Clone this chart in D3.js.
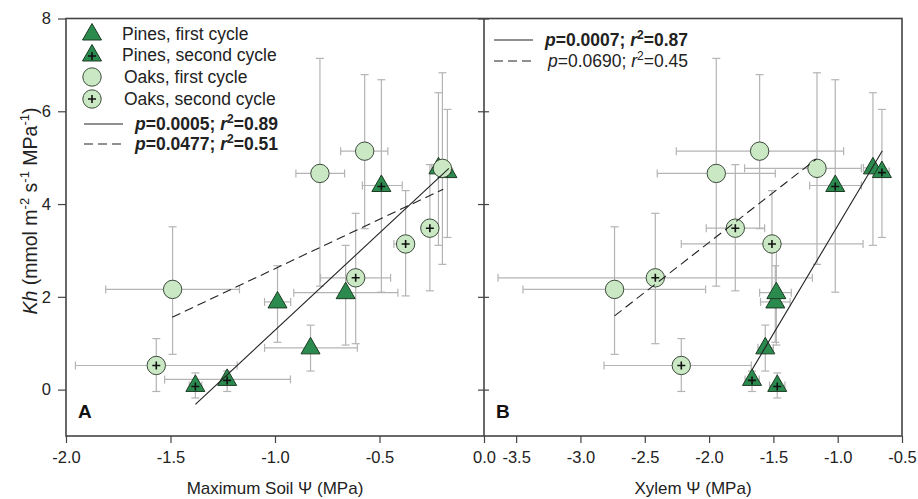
<!DOCTYPE html>
<html><head><meta charset="utf-8">
<script src="https://cdn.jsdelivr.net/npm/d3@7"></script>
<style>body{margin:0;background:#fff} svg{display:block;font-family:"Liberation Sans",Arial,sans-serif}</style>
</head><body><svg id="c" width="918" height="499"></svg>
<script>
// ---------- DATA ----------
const yTicks = [0, 2, 4, 6, 8];
const xTicksA = [-2.0, -1.5, -1.0, -0.5, 0.0];
const xTicksB = [-3.5, -3.0, -2.5, -2.0, -1.5, -1.0, -0.5];

// Pines, first cycle
const pine1Kh    = [1.89, 0.90, 2.09, 4.78];
const pine1KhLo  = [1.02, 0.40, 0.96, 3.11];
const pine1KhHi  = [2.67, 1.39, 3.11, 6.40];
const pine1Soil  = [-0.988, -0.83, -0.662, -0.218];
const pine1SoilLo= [-1.05, -1.05, -0.91, -0.25];
const pine1SoilHi= [-0.925, -0.606, -0.412, -0.19];
const pine1Xyl   = [-1.485, -1.563, -1.477, -0.726];
const pine1XylLo = [-1.60, -1.62, -1.607, -0.80];
const pine1XylHi = [-1.37, -1.50, -1.361, -0.66];

// Pines, second cycle
const pine2Kh    = [0.09, 0.22, 4.40, 4.70];
const pine2KhLo  = [-0.18, -0.04, 2.10, 3.28];
const pine2KhHi  = [0.36, 0.40, 6.68, 6.04];
const pine2Soil  = [-1.381, -1.229, -0.491, -0.175];
const pine2SoilLo= [-1.41, -1.528, -0.582, -0.20];
const pine2SoilHi= [-1.35, -0.926, -0.391, -0.15];
const pine2Xyl   = [-1.470, -1.666, -1.019, -0.656];
const pine2XylLo = [-1.53, -1.72, -1.218, -0.72];
const pine2XylHi = [-1.41, -1.61, -0.816, -0.60];

// Oaks, first cycle
const oak1Kh    = [2.16, 4.66, 5.14, 4.77];
const oak1KhLo  = [0.76, 2.23, 3.47, 2.70];
const oak1KhHi  = [3.51, 7.14, 6.79, 6.83];
const oak1Soil  = [-1.49, -0.785, -0.571, -0.199];
const oak1SoilLo= [-1.81, -0.90, -0.686, -0.23];
const oak1SoilHi= [-1.17, -0.667, -0.46, -0.17];
const oak1Xyl   = [-2.735, -1.944, -1.607, -1.161];
const oak1XylLo = [-3.447, -2.403, -2.255, -1.724];
const oak1XylHi = [-2.027, -1.485, -0.954, -0.816];

// Oaks, second cycle
const oak2Kh    = [0.52, 2.41, 3.14, 3.48];
const oak2KhLo  = [-0.04, 0.99, 2.02, 2.13];
const oak2KhHi  = [1.10, 3.80, 4.29, 4.85];
const oak2Soil  = [-1.568, -0.614, -0.375, -0.259];
const oak2SoilLo= [-1.955, -0.782, -0.431, -0.29];
const oak2SoilHi= [-1.181, -0.447, -0.335, -0.23];
const oak2Xyl   = [-2.216, -2.418, -1.511, -1.796];
const oak2XylLo = [-2.817, -3.641, -2.216, -2.022];
const oak2XylHi = [-1.672, -1.197, -0.803, -1.568];

// Regression lines (end points)
const fitA_solidX = [-1.381, -0.168], fitA_solidY = [-0.32, 4.77];
const fitA_dashX  = [-1.492, -0.195], fitA_dashY  = [1.56, 4.32];
const fitB_solidX = [-1.666, -0.653], fitB_solidY = [0.43, 5.15];
const fitB_dashX  = [-2.735, -1.166], fitB_dashY  = [1.59, 4.97];

const legendLabels = ["Pines, first cycle", "Pines, second cycle", "Oaks, first cycle", "Oaks, second cycle"];
const statsA = [["0.0005", "0.89"], ["0.0477", "0.51"]];
const statsB = [["0.0007", "0.87"], ["0.0690", "0.45"]];

// ---------- STYLE ----------
const pineFill = "#2b8b4f", pineStroke = "#1c3b22";
const oakFill = "#c9e8c3", oakStroke = "#3b4a3b";
const errCol = "#b4b4b4";
const frameCol = "#444";
const FONT = '"Liberation Sans",Arial,sans-serif';

const svg = d3.select("#c");
const y = d3.scaleLinear().domain([-1, 8]).range([436, 18.5]);
const xA = d3.scaleLinear().domain([-2, 0]).range([66, 484]);
const xB = d3.scaleLinear().domain([-3.75, -0.5]).range([484, 902]);

const triPath = "M0,-10.5L9.5,6L-9.5,6Z";

function makeSeries(kh, lo, hi, xs, xlo, xhi) {
  return kh.map((k, i) => ({k, lo: lo[i], hi: hi[i], x: xs[i], xlo: xlo[i], xhi: xhi[i]}));
}

function drawPanel(g, x, series, fits) {
  const eg = g.append("g").attr("stroke", errCol).attr("stroke-width", 1.2).attr("fill", "none");
  const cap = 4;
  series.forEach(s => {
    s.data.forEach(d => {
      eg.append("line").attr("x1", x(d.x)).attr("x2", x(d.x)).attr("y1", y(d.lo)).attr("y2", y(d.hi));
      eg.append("line").attr("x1", x(d.x) - cap).attr("x2", x(d.x) + cap).attr("y1", y(d.lo)).attr("y2", y(d.lo));
      eg.append("line").attr("x1", x(d.x) - cap).attr("x2", x(d.x) + cap).attr("y1", y(d.hi)).attr("y2", y(d.hi));
      eg.append("line").attr("x1", x(d.xlo)).attr("x2", x(d.xhi)).attr("y1", y(d.k)).attr("y2", y(d.k));
      eg.append("line").attr("x1", x(d.xlo)).attr("x2", x(d.xlo)).attr("y1", y(d.k) - cap).attr("y2", y(d.k) + cap);
      eg.append("line").attr("x1", x(d.xhi)).attr("x2", x(d.xhi)).attr("y1", y(d.k) - cap).attr("y2", y(d.k) + cap);
    });
  });
  series.forEach(s => {
    s.data.forEach(d => drawMarker(g, x(d.x), y(d.k), s.type, s.plus));
  });
  const line = d3.line().x(d => x(d[0])).y(d => y(d[1]));
  fits.forEach(f => {
    g.append("path").attr("d", line(f.xs.map((v, i) => [v, f.ys[i]])))
      .attr("fill", "none").attr("stroke", "#222").attr("stroke-width", 1.1)
      .attr("stroke-dasharray", f.dash ? "9,5" : null);
  });
}

function drawMarker(g, cx, cy, type, plus) {
  const m = g.append("g").attr("transform", `translate(${cx},${cy})`);
  if (type === "tri") {
    m.append("path").attr("d", triPath).attr("fill", pineFill).attr("stroke", pineStroke).attr("stroke-width", 1);
  } else {
    m.append("circle").attr("r", 9.2).attr("fill", oakFill).attr("stroke", oakStroke).attr("stroke-width", 1);
  }
  if (plus) {
    const py = type === "tri" ? 1 : 0;
    m.append("path").attr("d", `M-4,${py}H4M0,${py - 4}V${py + 4}`).attr("stroke", "#111").attr("stroke-width", 1.6);
  }
}

const seriesA = [
  {type: "tri", plus: false, data: makeSeries(pine1Kh, pine1KhLo, pine1KhHi, pine1Soil, pine1SoilLo, pine1SoilHi)},
  {type: "tri", plus: true,  data: makeSeries(pine2Kh, pine2KhLo, pine2KhHi, pine2Soil, pine2SoilLo, pine2SoilHi)},
  {type: "circ", plus: false, data: makeSeries(oak1Kh, oak1KhLo, oak1KhHi, oak1Soil, oak1SoilLo, oak1SoilHi)},
  {type: "circ", plus: true,  data: makeSeries(oak2Kh, oak2KhLo, oak2KhHi, oak2Soil, oak2SoilLo, oak2SoilHi)}
];
const seriesB = [
  {type: "tri", plus: false, data: makeSeries(pine1Kh, pine1KhLo, pine1KhHi, pine1Xyl, pine1XylLo, pine1XylHi)},
  {type: "tri", plus: true,  data: makeSeries(pine2Kh, pine2KhLo, pine2KhHi, pine2Xyl, pine2XylLo, pine2XylHi)},
  {type: "circ", plus: false, data: makeSeries(oak1Kh, oak1KhLo, oak1KhHi, oak1Xyl, oak1XylLo, oak1XylHi)},
  {type: "circ", plus: true,  data: makeSeries(oak2Kh, oak2KhLo, oak2KhHi, oak2Xyl, oak2XylLo, oak2XylHi)}
];

drawPanel(svg.append("g"), xA, seriesA, [
  {xs: fitA_solidX, ys: fitA_solidY, dash: false},
  {xs: fitA_dashX, ys: fitA_dashY, dash: true}
]);
drawPanel(svg.append("g"), xB, seriesB, [
  {xs: fitB_solidX, ys: fitB_solidY, dash: false},
  {xs: fitB_dashX, ys: fitB_dashY, dash: true}
]);

// ---------- FRAME & AXES ----------
svg.append("rect").attr("x", 66).attr("y", 18.5).attr("width", 836).attr("height", 417.5)
  .attr("fill", "none").attr("stroke", frameCol).attr("stroke-width", 1.6);
svg.append("line").attr("x1", 484).attr("x2", 484).attr("y1", 18.5).attr("y2", 436)
  .attr("stroke", frameCol).attr("stroke-width", 1.6);

function styleAxis(g) {
  g.select(".domain").remove();
  g.selectAll(".tick line").attr("stroke", frameCol).attr("stroke-width", 1.2);
  g.selectAll(".tick text").attr("fill", "#222").style("font-size", "16.5px").style("font-family", FONT);
}
const fmt = d => d.toFixed(1);
svg.append("g").attr("transform", "translate(0,436)")
  .call(d3.axisBottom(xA).tickValues(xTicksA).tickFormat(fmt).tickSize(7).tickPadding(8)).call(styleAxis);
svg.append("g").attr("transform", "translate(0,436)")
  .call(d3.axisBottom(xB).tickValues(xTicksB).tickFormat(fmt).tickSize(7).tickPadding(8)).call(styleAxis);
svg.append("g").attr("transform", "translate(66,0)")
  .call(d3.axisLeft(y).tickValues(yTicks).tickFormat(d => d).tickSize(8).tickPadding(7)).call(styleAxis);
svg.append("g").attr("transform", "translate(484,0)")
  .call(d3.axisLeft(y).tickValues(yTicks).tickFormat("").tickSize(6)).call(styleAxis);
svg.append("g").attr("transform", "translate(484,0)")
  .call(d3.axisRight(y).tickValues(yTicks).tickFormat("").tickSize(5)).call(styleAxis);

// axis titles
svg.append("text").attr("x", 275).attr("y", 494).attr("text-anchor", "middle")
  .style("font-size", "17px").attr("fill", "#222").text("Maximum Soil \u03A8 (MPa)");
svg.append("text").attr("x", 693).attr("y", 494).attr("text-anchor", "middle")
  .style("font-size", "17px").attr("fill", "#222").text("Xylem \u03A8 (MPa)");

const yt = svg.append("text").attr("transform", "translate(37,211) rotate(-90)").attr("text-anchor", "middle")
  .style("font-size", "19.5px").attr("fill", "#222");
yt.append("tspan").attr("font-style", "italic").text("Kh");
yt.append("tspan").text(" (mmol m");
yt.append("tspan").attr("dy", -8).style("font-size", "13px").text("-2");
yt.append("tspan").attr("dy", 8).text(" s");
yt.append("tspan").attr("dy", -8).style("font-size", "13px").text("-1");
yt.append("tspan").attr("dy", 8).text(" MPa");
yt.append("tspan").attr("dy", -8).style("font-size", "13px").text("-1");
yt.append("tspan").attr("dy", 8).text(")");

// panel letters
svg.append("text").attr("x", 78).attr("y", 418).style("font-size", "19px").style("font-weight", "bold").attr("fill", "#111").text("A");
svg.append("text").attr("x", 496).attr("y", 418).style("font-size", "19px").style("font-weight", "bold").attr("fill", "#111").text("B");

// ---------- LEGENDS ----------
const legRows = [34, 55, 77, 99];
const legTypes = [["tri", false], ["tri", true], ["circ", false], ["circ", true]];
legRows.forEach((ry, i) => {
  drawMarker(svg, 92, ry, legTypes[i][0], legTypes[i][1]);
  svg.append("text").attr("x", i < 2 ? 122 : 124).attr("y", ry + 6).style("font-size", "17.5px").attr("fill", "#222").text(legendLabels[i]);
});

function statText(x, yy, st, bold) {
  const t = svg.append("text").attr("x", x).attr("y", yy).attr("text-anchor", "end")
    .style("font-size", "17.5px").style("font-weight", bold ? "bold" : "normal").attr("fill", "#222");
  t.append("tspan").attr("font-style", "italic").text("p");
  t.append("tspan").text("=" + st[0] + "; ");
  t.append("tspan").attr("font-style", "italic").text("r");
  t.append("tspan").attr("dy", -7).style("font-size", "12px").text("2");
  t.append("tspan").attr("dy", 7).text("=" + st[1]);
}
function legLine(x1, x2, yy, dash) {
  svg.append("line").attr("x1", x1).attr("x2", x2).attr("y1", yy).attr("y2", yy)
    .attr("stroke", "#222").attr("stroke-width", 1.1).attr("stroke-dasharray", dash ? "9,5" : null);
}
legLine(84, 123, 124, false);
legLine(84, 123, 144, true);
statText(278, 130, statsA[0], true);
statText(278, 150, statsA[1], true);
legLine(494, 533, 40, false);
legLine(494, 533, 61, true);
statText(688, 46, statsB[0], true);
statText(688, 67, statsB[1], false);
</script></body></html>
